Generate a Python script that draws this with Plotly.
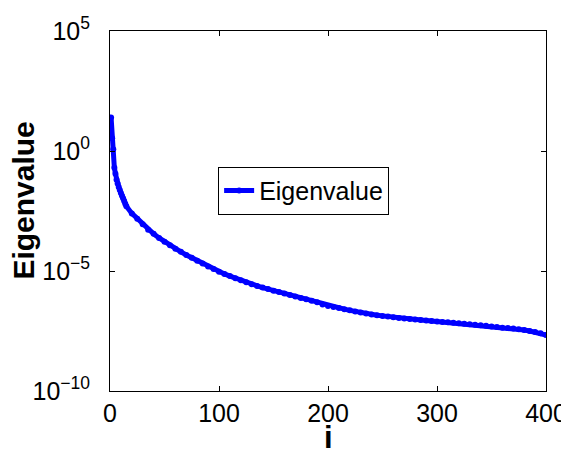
import plotly.graph_objects as go

idx = [1, 2, 3, 4, 5, 6, 7, 8, 9, 10, 11, 12, 13, 14, 15,
       20, 25, 30, 35, 40, 45, 50, 55, 60, 65, 70, 75, 80, 85, 90, 95,
       100, 105, 110, 115, 120, 125, 130, 135, 140, 145, 150, 155, 160,
       165, 170, 175, 180, 185, 190, 195, 200, 205, 210, 215, 220, 225,
       230, 235, 240, 245, 250, 255, 260, 265, 270, 275, 280, 285, 290,
       295, 300, 305, 310, 315, 320, 325, 330, 335, 340, 345, 350, 355,
       360, 365, 370, 375, 380, 385, 390, 395, 400]
log_eig = [1.40, 0.53, 0.07, -0.70, -0.95, -1.20, -1.35, -1.50, -1.63, -1.75,
           -1.86, -1.97, -2.08, -2.20, -2.30,
           -2.60, -2.82, -3.05, -3.28, -3.45, -3.62, -3.78, -3.93, -4.07, -4.20,
           -4.33, -4.45, -4.57, -4.69, -4.81, -4.92,
           -5.03, -5.12, -5.21, -5.30, -5.39, -5.47, -5.55, -5.62, -5.69, -5.75,
           -5.82, -5.88, -5.94, -6.00, -6.06, -6.12, -6.18, -6.24, -6.30, -6.40,
           -6.46, -6.50, -6.54, -6.59, -6.64, -6.69, -6.73, -6.77, -6.81, -6.84,
           -6.87, -6.90, -6.93, -6.96, -6.98, -7.00, -7.02, -7.04, -7.06, -7.08,
           -7.10, -7.12, -7.14, -7.16, -7.18, -7.20, -7.22, -7.24, -7.26, -7.28,
           -7.31, -7.33, -7.36, -7.38, -7.40, -7.43, -7.46, -7.50, -7.54, -7.59,
           -7.67]
eigenvalues = [10 ** v for v in log_eig]

x_ticks = [0, 100, 200, 300, 400]
y_tick_vals = [1e-10, 1e-5, 1e0, 1e5]
y_tick_text = ["10<sup>−10</sup>", "10<sup>−5</sup>", "10<sup>0</sup>", "10<sup>5</sup>"]

FONT = "Arial, Liberation Sans, sans-serif"

fig = go.Figure()
fig.add_trace(go.Scatter(
    x=idx, y=eigenvalues, mode="lines+markers", name="Eigenvalue",
    line=dict(color="#0000ff", width=5),
    marker=dict(color="#0000ff", size=6, symbol="circle"),
))

axis_common = dict(
    showgrid=False, zeroline=False, showline=True, linecolor="black", linewidth=1,
    mirror="ticks", ticks="inside", ticklen=5, tickcolor="black", automargin=False,
    tickfont=dict(family=FONT, size=25, color="black"),
)
fig.update_xaxes(range=[0, 400], tickvals=x_ticks, **axis_common)
fig.update_yaxes(type="log", range=[-10, 5], tickvals=y_tick_vals, ticktext=y_tick_text,
                 ticklabelstandoff=14, **axis_common)

fig.add_annotation(text="<b>Eigenvalue</b>", xref="paper", yref="paper",
                   x=-0.198, y=0.528, xanchor="center", yanchor="middle",
                   textangle=-90, showarrow=False,
                   font=dict(family=FONT, size=30, color="black"))
fig.add_annotation(text="<b>i</b>", xref="paper", yref="paper",
                   x=0.5, y=-0.128, xanchor="center", yanchor="middle",
                   showarrow=False,
                   font=dict(family=FONT, size=31, color="black"))

fig.update_layout(
    width=561, height=446,
    margin=dict(l=102, r=23, t=23, b=63),
    paper_bgcolor="white", plot_bgcolor="white",
    showlegend=True,
    legend=dict(x=0.248, y=0.623, xanchor="left", yanchor="top",
                bordercolor="black", borderwidth=1, bgcolor="white",
                font=dict(family=FONT, size=25, color="black"),
                itemwidth=30, tracegroupgap=0),
)
fig.write_html("out.html")
